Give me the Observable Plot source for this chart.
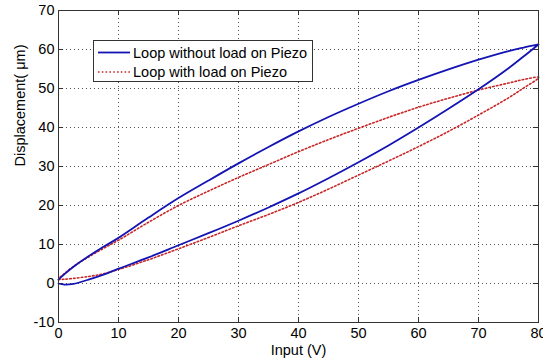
<!DOCTYPE html>
<html>
<head>
<meta charset="utf-8">
<script src="https://cdn.jsdelivr.net/npm/d3@7"></script>
<script src="https://cdn.jsdelivr.net/npm/@observablehq/plot@0.6"></script>
<style>
  body { margin: 0; background: #fff; }
  #wrap { position: relative; width: 543px; height: 362px; font-family: "Liberation Sans", Arial, sans-serif; }
  #legend { position: absolute; left: 93px; top: 40px; width: 218px; height: 40px; border: 1px solid #333; background: #fff; box-sizing: content-box; }
  #legend svg { display: block; }
</style>
</head>
<body>
<div id="wrap"></div>
<script>
// Input voltage samples (V)
const inputV = [0, 1, 2.5, 5, 7.5, 10, 15, 20, 25, 30, 35, 40, 45, 50, 55, 60, 65, 70, 75, 77.5, 80];
// Loop without load on Piezo: ascending (lower) and descending (upper) branches (µm)
const noLoadUp   = [0, -0.3, -0.1, 1.0, 2.3, 3.8, 6.7, 9.8, 12.9, 16.1, 19.5, 23.1, 27.0, 31.1, 35.4, 40.0, 44.8, 49.8, 55.2, 58.2, 61.3];
const noLoadDown = [1.0, 2.4, 4.3, 7.0, 9.4, 11.7, 16.9, 21.9, 26.4, 30.8, 35.0, 39.0, 42.7, 46.1, 49.3, 52.2, 54.9, 57.4, 59.6, 60.5, 61.3];
// Loop with load on Piezo
const loadUp   = [1.0, 1.1, 1.3, 1.8, 2.5, 3.6, 6.1, 8.9, 11.8, 14.8, 17.7, 20.8, 24.2, 27.8, 31.4, 35.1, 39.0, 43.2, 47.6, 50.1, 52.7];
const loadDown = [1.3, 2.6, 4.4, 6.8, 9.0, 11.1, 15.7, 20.0, 23.7, 27.2, 30.5, 33.8, 36.9, 39.8, 42.6, 45.2, 47.5, 49.6, 51.4, 52.3, 52.9];

const xTicks = [0, 10, 20, 30, 40, 50, 60, 70, 80];
const yTicks = [-10, 0, 10, 20, 30, 40, 50, 60, 70];
const seriesNames = ["Loop without load on Piezo", "Loop with load on Piezo"];
const xLabel = "Input (V)";
const yLabel = "Displacement( \u03bcm)";

function loop(up, down) {
  const a = inputV.map((x, i) => ({x, y: up[i]}));
  const b = inputV.map((x, i) => ({x, y: down[i]})).reverse();
  return a.concat(b);
}
const noLoad = loop(noLoadUp, noLoadDown);
const withLoad = loop(loadUp, loadDown);

const blue = "#1414b4";
const red = "#c82828";

const chart = Plot.plot({
  width: 543,
  height: 362,
  marginLeft: 58,
  marginRight: 5,
  marginTop: 10,
  marginBottom: 40,
  style: { fontFamily: "'Liberation Sans', Arial, sans-serif", fontSize: "14.5px", color: "#000", background: "#fff" },
  x: { domain: [0, 80] },
  y: { domain: [-10, 70] },
  marks: [
    Plot.gridX(xTicks, { stroke: "#555", strokeOpacity: 1, strokeDasharray: "1,3" }),
    Plot.gridY(yTicks, { stroke: "#555", strokeOpacity: 1, strokeDasharray: "1,3" }),
    Plot.ruleX(xTicks, { x: d => d, y1: -10, y2: -8.7, stroke: "#333" }),
    Plot.ruleX(xTicks, { x: d => d, y1: 70, y2: 68.7, stroke: "#333" }),
    Plot.ruleY(yTicks, { y: d => d, x1: 0, x2: 0.85, stroke: "#333" }),
    Plot.ruleY(yTicks, { y: d => d, x1: 80, x2: 79.15, stroke: "#333" }),
    Plot.line(withLoad, { x: "x", y: "y", stroke: red, strokeWidth: 1.6, strokeDasharray: "1.6,2.2", curve: "catmull-rom" }),
    Plot.line(noLoad, { x: "x", y: "y", stroke: blue, strokeWidth: 1.8, curve: "catmull-rom" }),
    Plot.frame({ stroke: "#333" }),
    Plot.axisX(xTicks, { tickSize: 0, tickPadding: 5, tickFormat: d => String(d), label: null }),
    Plot.axisY(yTicks, { tickSize: 0, tickPadding: 4, tickFormat: d => String(d), label: null }),
    Plot.text([xLabel], { text: d => d, frameAnchor: "bottom", dy: 28, lineAnchor: "middle", fontSize: 14.5, fill: "#000" }),
    Plot.text([yLabel], { text: d => d, frameAnchor: "left", dx: -38, rotate: -90, lineAnchor: "middle", fontSize: 14.5, fill: "#000" })
  ]
});

const wrap = document.getElementById("wrap");
wrap.appendChild(chart);

// Legend overlay
const legend = document.createElement("div");
legend.id = "legend";
const lsvg = d3.create("svg").attr("width", 218).attr("height", 40);
const rows = [
  { name: seriesNames[0], color: blue, dash: null, w: 1.8 },
  { name: seriesNames[1], color: red, dash: "1.6,2.2", w: 1.6 }
];
rows.forEach((r, i) => {
  const cy = 11.5 + i * 19.5;
  lsvg.append("line").attr("x1", 4).attr("x2", 36).attr("y1", cy).attr("y2", cy)
    .attr("stroke", r.color).attr("stroke-width", r.w).attr("stroke-dasharray", r.dash);
  lsvg.append("text").attr("x", 39).attr("y", cy).attr("dy", "0.35em")
    .attr("font-family", "'Liberation Sans', Arial, sans-serif").attr("font-size", 14.5)
    .attr("fill", "#000").text(r.name);
});
legend.appendChild(lsvg.node());
wrap.appendChild(legend);
</script>
</body>
</html>
